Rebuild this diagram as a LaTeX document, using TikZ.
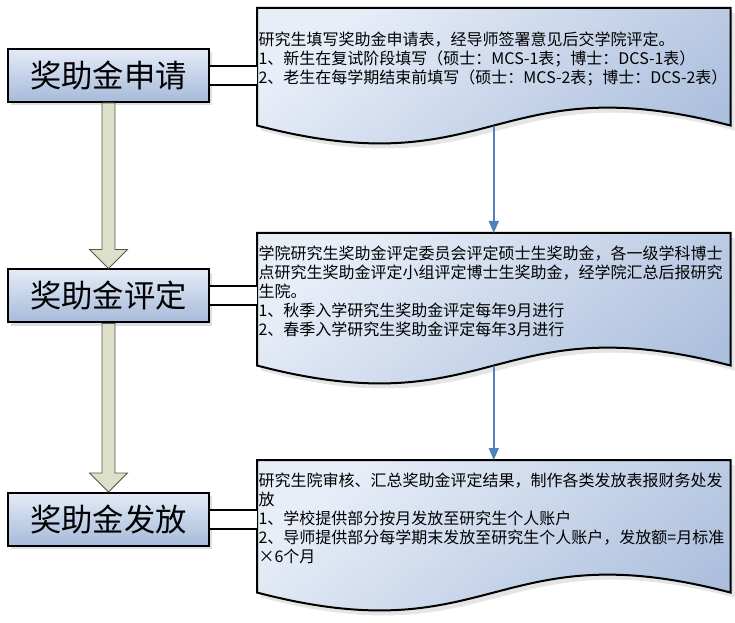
\documentclass[tikz,border=0pt]{standalone}
\usepackage{fontspec}
\setmainfont{Noto Sans CJK SC}
\usepackage{tikz}
\usetikzlibrary{arrows.meta}
\usetikzlibrary{calc,backgrounds,shadows}
\definecolor{boxtop}{RGB}{228,235,247}
\definecolor{boxbottom}{RGB}{166,186,218}
\definecolor{doclight}{RGB}{232,238,248}
\definecolor{docdark}{RGB}{172,191,221}
\definecolor{khaki}{RGB}{221,224,201}
\definecolor{khakiline}{RGB}{85,85,75}
\definecolor{flowblue}{RGB}{79,129,189}
\begin{document}
\begin{tikzpicture}[x=0.75pt,y=-0.75pt,
  stage/.style={draw=black, line width=1.5pt, top color=boxtop, bottom color=boxbottom,
    minimum width=150.75pt, minimum height=39.75pt, inner sep=0pt,
    font=\fontsize{23.5pt}{28pt}\selectfont,
    drop shadow={shadow xshift=2.5pt, shadow yshift=-2.5pt, fill=gray!25, opacity=1}},
  note/.style={anchor=north west, align=left, text width=352.75pt, inner xsep=1pt, inner ysep=0pt,
    font=\fontsize{12pt}{14.25pt}\selectfont},
  docbody/.style={draw=black, line width=1.5pt, top color=doclight, bottom color=docdark, shading angle=40},
  docshadow/.style={fill=gray!20, draw=none},
  link/.style={draw=black, line width=1.5pt, double=white, double distance=12.75pt},
  blockarrow/.style={draw=khakiline, line width=0.6pt, fill=khaki, line join=miter},
  flow/.style={-{Triangle[width=7.5pt,length=9pt]}, draw=flowblue, fill=flowblue, line width=1.2pt}]

 \useasboundingbox (0,0) rectangle (735,623);

 \node [stage] (apply) at (108.5,75.5) {奖助金申请};

 \node [stage] (assess) at (108.5,296) {奖助金评定};

 \node [stage] (payout) at (108.5,519.5) {奖助金发放};


 \node [note, minimum height=75.75pt] (doc1) at (257,8)
     {研究生填写奖助金申请表，经导师签署意见后交学院评定。\\
      1、新生在复试阶段填写（硕士：MCS-1表；博士：DCS-1表）\\
      2、老生在每学期结束前填写（硕士：MCS-2表；博士：DCS-2表）};

 \node [note, minimum height=87pt] (doc2) at (257,233)
     {学院研究生奖助金评定委员会评定硕士生奖助金，各一级学科博士\\
      点研究生奖助金评定小组评定博士生奖助金，经学院汇总后报研究\\
      生院。\\
      1、秋季入学研究生奖助金评定每年9月进行\\
      2、春季入学研究生奖助金评定每年3月进行};

 \node [note, minimum height=87pt] (doc3) at (257,460)
     {研究生院审核、汇总奖助金评定结果，制作各类发放表报财务处发\\
      放\\
      1、学校提供部分按月发放至研究生个人账户\\
      2、导师提供部分每学期末发放至研究生个人账户，发放额=月标准\\
      ×6个月};


 \begin{scope}[on background layer]
 \foreach \d in {doc1,doc2,doc3} {
   \coordinate (\d-wl) at ($(\d.south west)+(0,16)$);
   \coordinate (\d-wr) at ($(\d.south east)+(0,16)$);
   \coordinate (\d-wave) at ($(\d.south)+(0,16)$);
   \path [docshadow, transform canvas={shift={(4,5)}}] (\d.north west) -- (\d.north east) -- (\d-wr)
       .. controls +(-236.5,-62) and +(236.5,62) .. (\d-wl) -- cycle;
   \path [docbody] (\d.north west) -- (\d.north east) -- (\d-wr)
       .. controls +(-236.5,-62) and +(236.5,62) .. (\d-wl) -- cycle;
 }
 \end{scope}


 \draw [link] (apply.east) -- (apply.east -| doc1.west);
 \draw [link] (assess.east) -- (assess.east -| doc2.west);
 \draw [link] (payout.east) -- (payout.east -| doc3.west);

 \foreach \a/\b in {apply/assess, assess/payout} {
   \draw [blockarrow] ($(\a.south)+(-6.5,0)$) -- ($(\b.north)+(-6.5,-19)$) -- ($(\b.north)+(-19,-19)$)
       -- (\b.north) -- ($(\b.north)+(19,-19)$) -- ($(\b.north)+(6.5,-19)$) -- ($(\a.south)+(6.5,0)$) -- cycle;
 }

 \draw [flow] (doc1-wave) -- (doc2.north);
 \draw [flow] (doc2-wave) -- (doc3.north);

\end{tikzpicture}
\end{document}
